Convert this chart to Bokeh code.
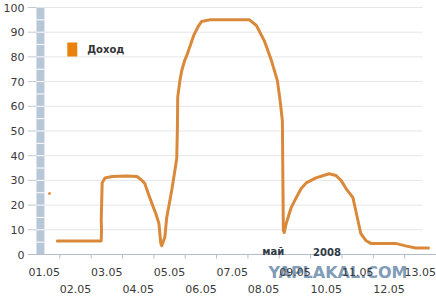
from bokeh.plotting import figure
from bokeh.models import Range1d, FixedTicker, ColumnDataSource
from bokeh.core.properties import value
from bokeh.embed import file_html
from bokeh.resources import INLINE

# ---------------- data ----------------
day_labels = ["01.05", "02.05", "03.05", "04.05", "05.05", "06.05", "07.05",
              "08.05", "09.05", "10.05", "11.05", "12.05", "13.05"]
day_pos = list(range(1, 14))
y_ticks = [0, 10, 20, 30, 40, 50, 60, 70, 80, 90, 100]

# hand-drawn "Доход" curve: fractional day position, value
income_day = [1.42, 2.82, 2.83, 2.82, 2.85, 2.94, 3.17, 3.64, 3.96, 4.12, 4.21,
              4.34, 4.44, 4.56, 4.66, 4.72, 4.75, 4.85, 4.91, 5.07, 5.17, 5.23,
              5.25, 5.26, 5.33, 5.39, 5.48, 5.55, 5.77, 5.93, 6.02, 6.28, 7.55,
              7.77, 8.02, 8.25, 8.44, 8.53, 8.60, 8.61, 8.63, 8.66, 8.72, 8.88,
              9.04, 9.20, 9.36, 9.67, 10.09, 10.31, 10.47, 10.63, 10.85, 10.94,
              11.10, 11.26, 11.42, 12.21, 12.53, 12.85, 13.26]
income_val = [5.5, 5.5, 10.0, 14.0, 29.0, 31.0, 31.6, 31.8, 31.6, 30.0, 28.7,
              24.0, 20.6, 16.6, 12.6, 4.5, 3.6, 7.0, 15.0, 26.0, 34.0, 39.0,
              51.0, 63.6, 70.4, 74.5, 78.5, 80.6, 88.7, 92.7, 94.3, 95.0, 95.0,
              92.7, 86.6, 78.5, 70.4, 62.0, 54.0, 38.0, 9.7, 8.9, 12.5, 19.0,
              23.0, 26.7, 29.0, 31.0, 32.7, 32.0, 30.0, 26.7, 23.0, 17.8,
              8.5, 5.7, 4.5, 4.5, 3.5, 2.6, 2.6]
stray_day = [1.17]
stray_val = [24.7]

series_name = "Доход"
month_text = "май"
year_text = "2008"
watermark = "YAPLAKAL.COM"

# ---------------- geometry helpers ----------------
DAY_PX = 31.5          # pixels per day
DAY1_PX = 41.75        # canvas x of the centre of day 1
UNIT_PX = 2.47         # pixels per value unit
ZERO_PX = 254          # canvas y of value 0


def tx(px):
    return 1 + (px - DAY1_PX) / DAY_PX


def vy(py):
    return (ZERO_PX - py) / UNIT_PX


FONT = "DejaVu Sans"
LINE_COL = "#da893a"
TEXT_COL = "#3a3a3a"

p = figure(width=436, height=302, output_backend="svg", toolbar_location=None,
           x_range=Range1d(tx(25), tx(436)), y_range=Range1d(vy(302), vy(0)),
           x_axis_location=None)
p.min_border_left = 25
p.min_border_right = 0
p.min_border_top = 0
p.min_border_bottom = 0
p.outline_line_color = None
p.grid.visible = False
p.background_fill_color = "white"
p.border_fill_color = "white"

# y axis (labels only)
p.yaxis.ticker = FixedTicker(ticks=y_ticks)
p.yaxis.major_tick_out = 0
p.yaxis.major_tick_in = 0
p.yaxis.minor_tick_line_color = None
p.yaxis.axis_line_color = None
p.yaxis.major_label_standoff = 3
p.yaxis.major_label_text_font = FONT
p.yaxis.major_label_text_font_size = "11px"
p.yaxis.major_label_text_color = TEXT_COL

# horizontal grid lines and left tick marks
p.segment(x0=[tx(42)] * len(y_ticks[1:]), x1=[tx(422)] * len(y_ticks[1:]),
          y0=y_ticks[1:], y1=y_ticks[1:], line_color="#e6e6e6", line_width=1)
p.segment(x0=[tx(25)] * len(y_ticks), x1=[tx(34)] * len(y_ticks),
          y0=y_ticks, y1=y_ticks, line_color="#c4c8cf", line_width=1)

# blue-grey wall on the left
p.quad(left=[tx(34)], right=[tx(42)], bottom=[0], top=[100],
       fill_color="#b8c7d7", line_color=None)
wall_marks = [v for v in range(5, 100, 5)]
p.segment(x0=[tx(34)] * len(wall_marks), x1=[tx(42)] * len(wall_marks),
          y0=wall_marks, y1=wall_marks, line_color="white", line_width=1)

# x axis line and tick marks between days
p.segment(x0=[tx(26)], x1=[tx(436)], y0=[0], y1=[0], line_color="#b3bccb",
          line_width=1)
tick_x = [d + 0.5 for d in day_pos[:-1]]
p.segment(x0=tick_x, x1=tick_x, y0=[0] * len(tick_x), y1=[vy(258)] * len(tick_x),
          line_color="#b3bccb", line_width=1)

# the series
p.line(income_day, income_val, line_color=LINE_COL, line_width=3,
       line_join="round", line_cap="round")
p.scatter(stray_day, stray_val, size=2, color=LINE_COL)

# legend (drawn by hand: square swatch + bold label)
p.quad(left=[tx(65)], right=[tx(75)], top=[vy(42)], bottom=[vy(56)],
       fill_color="#e8820c", line_color=None)
p.text(x=[tx(85)], y=[vy(49)], text=[series_name], text_font=value(FONT),
       text_font_style="bold", text_font_size="10px", text_color="#333333",
       text_align="left", text_baseline="middle")

# watermark
p.text(x=[tx(337)], y=[vy(272)], text=[watermark], text_font=value(FONT),
       text_font_style="bold", text_font_size="16px", text_color="#7f9db8",
       text_alpha=1.0, text_align="center", text_baseline="middle")

# date labels (two staggered rows)
odd = ColumnDataSource(dict(x=day_pos[0::2], y=[vy(271)] * len(day_pos[0::2]),
                            t=day_labels[0::2]))
even = ColumnDataSource(dict(x=day_pos[1::2], y=[vy(288)] * len(day_pos[1::2]),
                             t=day_labels[1::2]))
for src in (odd, even):
    p.text(x="x", y="y", text="t", source=src, text_font=value(FONT),
           text_font_size="11px", text_color=TEXT_COL, text_align="center",
           text_baseline="middle")

# month / year
p.text(x=[tx(272), tx(326)], y=[vy(251), vy(251)], text=[month_text, year_text],
       text_font=value(FONT), text_font_style="bold", text_font_size="10px",
       text_color="#2f3a44", text_align="center", text_baseline="middle")

open("out.html", "w").write(file_html(p, INLINE))
